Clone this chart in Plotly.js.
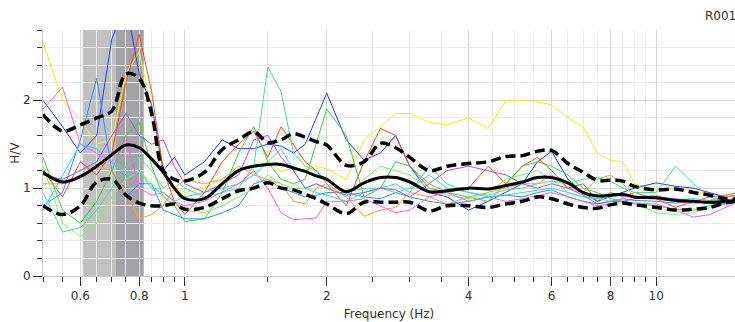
<!DOCTYPE html>
<html>
<head>
<meta charset="utf-8">
<script src="https://cdn.plot.ly/plotly-3.0.1.min.js"></script>
<style>html,body{margin:0;padding:0;background:#fff;}#chart{width:735px;height:322px;}</style>
</head>
<body>
<div id="chart"></div>
<script>
// Frequencies (Hz)
const freq = [0.5,0.55,0.6,0.65,0.7,0.75,0.8,0.85,0.9,0.95,1.0,1.1,1.2,1.3,1.4,1.5,1.6,1.7,1.8,1.9,2.0,2.2,2.4,2.6,2.8,3.0,3.3,3.6,4.0,4.4,4.8,5.2,5.6,6.0,6.5,7.0,7.5,8.0,8.5,9.0,10,11,12,13,14,15];

// Individual window H/V curves
const hvYellow = [2.66,2.0,1.78,1.5,1.55,2.3,2.55,1.9,1.15,1.0,0.95,1.0,1.1,1.2,1.25,1.3,1.2,1.22,1.2,1.25,1.22,1.1,1.55,1.7,1.85,1.85,1.75,1.72,1.8,1.68,2.0,2.0,1.98,1.95,1.8,1.7,1.4,1.32,1.3,1.05,0.98,1.0,0.97,0.93,0.9,0.92];
const hvBlue = [2.0,1.7,1.4,1.6,2.7,3.1,2.3,1.95,1.2,1.35,1.15,1.3,1.55,1.45,1.45,1.5,1.48,1.4,1.5,1.8,2.08,1.55,1.32,1.4,1.6,1.25,0.95,0.9,0.75,0.85,0.95,1.05,1.3,1.42,1.1,0.95,0.85,0.9,0.95,1.0,1.06,1.02,1.0,0.95,0.9,0.92];
const hvSkyBlue = [0.8,0.95,1.55,2.25,1.2,0.9,1.05,1.05,0.75,0.7,0.65,0.65,0.72,0.8,1.05,1.1,1.0,0.95,0.9,0.92,0.95,0.95,0.9,0.88,0.95,0.9,0.85,0.82,0.85,0.9,0.92,0.9,0.95,0.98,0.9,0.85,0.82,0.85,0.88,0.86,0.85,0.83,0.85,0.83,0.82,0.85];
const hvOrangeRed = [1.2,0.9,1.3,1.15,1.4,2.2,2.75,2.1,1.2,0.85,0.7,0.95,1.3,1.5,1.65,1.35,1.7,1.5,1.3,1.2,1.05,0.8,1.3,1.68,1.6,1.25,1.0,0.95,1.0,1.25,1.05,1.25,1.35,1.2,1.0,1.05,0.85,0.95,0.9,0.95,0.88,0.78,0.85,0.9,0.92,0.95];
const hvOrange = [1.05,1.05,1.15,1.25,1.2,0.95,0.65,0.7,0.8,1.0,1.1,1.05,1.1,1.25,1.15,1.1,1.05,0.85,0.82,1.0,1.05,0.9,0.68,0.75,0.78,0.95,0.9,0.82,0.9,0.95,1.0,1.05,1.05,1.15,1.0,0.95,1.1,1.15,1.05,0.9,0.92,0.85,0.82,0.86,0.9,0.92];
const hvGreen = [1.35,0.75,0.6,0.85,1.2,1.6,1.75,1.25,0.9,0.8,0.62,0.65,0.95,1.4,1.7,1.3,1.1,1.05,1.1,1.5,1.9,1.6,0.9,1.0,1.3,1.25,1.05,0.95,0.9,0.85,1.05,1.25,1.3,1.25,1.15,1.0,0.95,0.88,0.85,0.82,0.8,0.76,0.75,0.8,0.85,0.85];
const hvSpring = [0.95,0.5,0.55,0.75,1.0,1.25,1.35,1.2,1.0,1.1,1.0,0.9,0.95,1.0,1.25,2.38,2.1,1.4,1.25,1.2,1.1,0.95,1.0,1.0,0.95,1.0,1.15,1.0,0.95,0.92,0.98,1.0,1.05,1.08,1.05,1.1,1.12,1.08,1.0,0.95,0.95,1.25,1.05,0.9,0.85,0.88];
const hvLime = [1.25,0.6,0.45,0.6,0.9,1.1,1.2,1.05,0.9,0.85,0.75,0.72,0.8,0.9,1.0,1.15,1.05,1.0,1.0,1.05,1.0,0.9,1.1,1.25,1.2,1.15,1.0,0.92,0.88,0.95,1.1,1.15,1.2,1.1,0.95,0.9,0.88,0.85,0.84,0.83,0.72,0.7,0.72,0.78,0.83,0.85];
const hvCyan = [0.75,1.15,1.5,1.45,1.3,1.15,1.2,1.0,0.95,0.85,0.9,0.95,1.0,1.05,1.15,1.3,1.45,1.2,1.0,0.95,0.92,0.85,0.95,1.0,1.05,0.95,1.25,1.05,0.95,0.9,0.92,0.95,0.98,1.0,0.95,0.9,0.88,0.9,0.92,0.9,0.88,0.87,0.88,0.86,0.87,0.88];
const hvViolet = [1.15,1.1,1.2,1.3,1.6,1.85,1.6,1.5,1.55,1.25,1.05,0.95,1.05,1.15,1.55,1.6,1.35,1.2,1.0,1.05,1.0,0.92,0.95,1.0,0.98,0.9,1.05,1.2,1.25,1.2,1.15,1.05,1.0,1.05,1.0,0.92,0.82,0.85,0.85,0.88,0.9,0.88,0.85,0.83,0.82,0.85];
const hvMagenta = [1.9,2.15,1.5,1.4,1.3,1.55,1.0,0.92,0.95,0.85,0.8,0.85,0.95,1.05,1.2,1.0,0.72,0.64,0.65,0.66,0.85,0.85,0.88,0.8,0.72,0.75,0.9,0.95,0.85,0.9,0.85,0.88,0.92,0.95,0.9,0.85,0.8,0.82,0.85,0.83,0.82,0.75,0.67,0.7,0.78,0.85];

// Average curve and +/- standard deviation curves
const hvMean = [1.18,1.07,1.13,1.25,1.38,1.49,1.46,1.33,1.18,1.0,0.88,0.88,1.05,1.2,1.25,1.27,1.27,1.23,1.19,1.14,1.1,0.96,1.06,1.12,1.12,1.07,0.96,0.97,1.0,0.99,1.03,1.07,1.12,1.12,1.06,0.95,0.91,0.92,0.93,0.9,0.89,0.86,0.85,0.84,0.85,0.86];
const hvUpper = [1.84,1.65,1.72,1.8,1.88,2.3,2.25,1.85,1.2,1.1,1.08,1.18,1.44,1.55,1.64,1.52,1.55,1.62,1.58,1.53,1.49,1.26,1.3,1.51,1.46,1.35,1.2,1.25,1.28,1.3,1.36,1.37,1.42,1.43,1.28,1.18,1.09,1.09,1.08,1.02,0.98,0.99,0.95,0.92,0.88,0.88];
const hvLower = [0.8,0.7,0.8,1.07,1.1,0.92,0.83,0.8,0.8,0.82,0.76,0.78,0.88,0.97,1.0,1.06,1.0,0.98,0.93,0.88,0.82,0.71,0.84,0.84,0.84,0.84,0.74,0.8,0.8,0.78,0.82,0.85,0.9,0.88,0.82,0.78,0.77,0.81,0.83,0.81,0.78,0.75,0.76,0.78,0.83,0.86];

// Peak frequency bands (f0 - std, f0, f0 + std)
const peakBand = [0.607, 0.714, 0.818];

// Tick values
const xMajorTicks = [0.6,0.8,1,2,4,6,8,10];
const xMajorLabels = ["0.6","0.8","1","2","4","6","8","10"];
const xMinorTicks = [0.5,0.55,0.65,0.7,0.75,0.85,0.9,0.95,1.5,2.5,3,3.5,4.5,5,5.5,6.5,7,7.5,8.5,9,9.5];
const yMajorTicks = [0,1,2];
const yMajorLabels = ["0","1","2"];
const yMinorTicks = [0.2,0.4,0.6,0.8,1.2,1.4,1.6,1.8,2.2,2.4,2.6,2.8];

const windows = [
  [hvYellow,'#f2f200'],[hvBlue,'#1f3dff'],[hvSkyBlue,'#2f8fff'],[hvOrangeRed,'#ff4a1a'],
  [hvOrange,'#ff9a2e'],[hvGreen,'#2fdc2f'],[hvSpring,'#3de88c'],[hvLime,'#6cff5a'],
  [hvCyan,'#22ddee'],[hvViolet,'#a057ff'],[hvMagenta,'#ff5cf2']
];

const traces = windows.map(([vals,col]) => ({
  x: freq, y: vals, type:'scatter', mode:'lines',
  line:{color:col, width:1}, hoverinfo:'skip'
}));
traces.push({x:freq, y:hvUpper, type:'scatter', mode:'lines', line:{color:'#000', width:3.5, dash:'10px,5px', shape:'spline'}});
traces.push({x:freq, y:hvLower, type:'scatter', mode:'lines', line:{color:'#000', width:3.5, dash:'10px,5px', shape:'spline'}});
traces.push({x:freq, y:hvMean, type:'scatter', mode:'lines', line:{color:'#000', width:3, shape:'spline'}});

const font = {family:'DejaVu Sans, Verdana, sans-serif', size:12, color:'#333'};

const layout = {
  width:735, height:322,
  margin:{l:43, r:0, t:30, b:46},
  paper_bgcolor:'#fff', plot_bgcolor:'#fff',
  showlegend:false,
  font: font,
  xaxis:{
    type:'log', range:[Math.log10(0.5), Math.log10(14.7)],
    tickmode:'array', tickvals:xMajorTicks, ticktext:xMajorLabels,
    ticks:'outside', ticklen:9, tickcolor:'#333', tickwidth:1,
    showgrid:true, gridcolor:'#d9d9d9', gridwidth:1,
    showline:true, linecolor:'#c8c8c8', zeroline:false,
    tickfont:{family:font.family, size:12, color:'#333'},
    title:{text:'Frequency (Hz)', font:{family:font.family, size:12, color:'#333'}, standoff:7},
    minor:{tickmode:'array', tickvals:xMinorTicks, ticks:'outside', ticklen:5, tickcolor:'#333', showgrid:true, gridcolor:'#ececec', gridwidth:1}
  },
  yaxis:{
    range:[0,2.8],
    tickmode:'array', tickvals:yMajorTicks, ticktext:yMajorLabels,
    ticks:'outside', ticklen:9, tickcolor:'#333',
    showgrid:true, gridcolor:'#dadada',
    showline:true, linecolor:'#c8c8c8', zeroline:false,
    tickfont:{family:font.family, size:12, color:'#333'},
    title:{text:'H/V', font:{family:font.family, size:12, color:'#333'}, standoff:0},
    minor:{tickmode:'array', tickvals:yMinorTicks, ticks:'outside', ticklen:5, tickcolor:'#333', showgrid:true, gridcolor:'#ececec'}
  },
  shapes:[
    {type:'rect', xref:'x', yref:'paper', x0:peakBand[0], x1:peakBand[1], y0:0, y1:1, fillcolor:'#c0c0c0', line:{width:0}, layer:'between'},
    {type:'rect', xref:'x', yref:'paper', x0:peakBand[1], x1:peakBand[2], y0:0, y1:1, fillcolor:'#a3a3a7', line:{width:0}, layer:'between'}
  ],
  annotations:[
    {text:'R001', xref:'paper', yref:'paper', x:(703-43)/692, y:1, xanchor:'left', yanchor:'bottom', yshift:5, showarrow:false, font:{family:font.family, size:12, color:'#333'}}
  ]
};

Plotly.newPlot('chart', traces, layout, {staticPlot:true, displayModeBar:false});
</script>
</body>
</html>
